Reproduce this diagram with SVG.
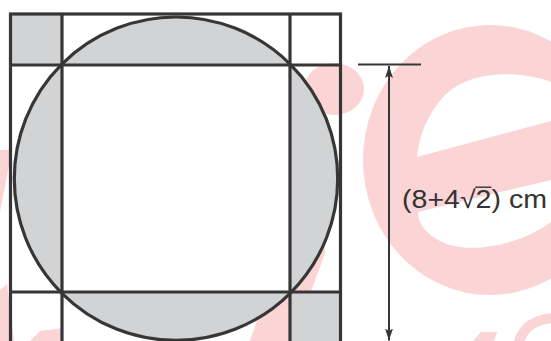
<svg xmlns="http://www.w3.org/2000/svg" width="551" height="341" viewBox="0 0 551 341">
  <defs>
    <style>
      .wm { fill: #fbd4d6; stroke: none; }
      .wmc { fill: #ffffff; stroke: none; }
      .shade { fill: #d1d3d4; stroke: none; }
      .edge { fill: none; stroke: #363636; stroke-width: 3.2; }
      .dim { fill: none; stroke: #363636; stroke-width: 2; }
      .label { font-family: "Liberation Sans", Arial, sans-serif; font-size: 25px; fill: #333333; }
    </style>
    <marker id="arrow" viewBox="0 0 12 8" refX="12" refY="4" markerWidth="12" markerHeight="8" markerUnits="userSpaceOnUse" orient="auto-start-reverse">
      <path d="M0,0 L12,4 L0,8 L2.5,4 Z" fill="#363636"/>
    </marker>
  </defs>

  <rect width="551" height="341" fill="#ffffff"/>

  <g id="watermark">
    <ellipse class="wm" cx="490" cy="160" rx="127" ry="135"/>
    <path class="wmc" d="M417 157 L551 121 L551 82 C520 70 470 70 445 95 C428 113 419 135 417 157 Z"/>
    <path class="wmc" d="M418 212 L551 180 L551 222 C520 245 470 255 442 242 C426 234 418 224 418 212 Z"/>
    <ellipse class="wm" cx="334" cy="89" rx="30" ry="26"/>
    <line x1="305" y1="250" x2="262" y2="365" stroke="#fbd4d6" stroke-width="40" stroke-linecap="round"/>
    <polygon class="wm" points="0,150 12,150 0,212"/>
    <polygon class="wm" points="0,290 7,284 14,341 0,341"/>
    <polygon class="wm" points="30,341 40,331 63,328 63,341"/>
    <path d="M518 345 Q524 319 556 318" fill="none" stroke="#fbd4d6" stroke-width="10"/>
    <polygon class="wm" points="473,341 481,332 497,332 494,341"/>
  </g>

  <g id="figure">
    <circle class="shade" cx="176" cy="178.7" r="161.7"/>
    <rect id="inner-square" x="62" y="65" width="228" height="227" fill="#ffffff"/>
    <rect id="corner-tl" class="shade" x="10.5" y="14" width="51.5" height="51"/>
    <rect id="corner-br" class="shade" x="290" y="292" width="50.5" height="55"/>
    <circle id="circle" class="edge" cx="176" cy="178.7" r="161.7"/>
    <rect id="outer-square" class="edge" x="10.5" y="14" width="330" height="330"/>
    <line class="edge" x1="62" y1="14" x2="62" y2="344"/>
    <line class="edge" x1="290" y1="14" x2="290" y2="344"/>
    <line class="edge" x1="10.5" y1="65" x2="340.5" y2="65"/>
    <line class="edge" x1="10.5" y1="292" x2="340.5" y2="292"/>
  </g>

  <g id="dimension">
    <line class="dim" x1="358" y1="64.5" x2="421" y2="64.5"/>
    <line class="dim" x1="389" y1="66" x2="389" y2="340.5" marker-start="url(#arrow)" marker-end="url(#arrow)"/>
  </g>

  <g id="label" transform="translate(402 207.5) scale(1.142 1)">
    <text class="label" x="0" y="0">(8+4√2) cm</text>
    <line x1="64.2" y1="-20.3" x2="78.3" y2="-20.3" stroke="#333333" stroke-width="1.4"/>
  </g>
</svg>
